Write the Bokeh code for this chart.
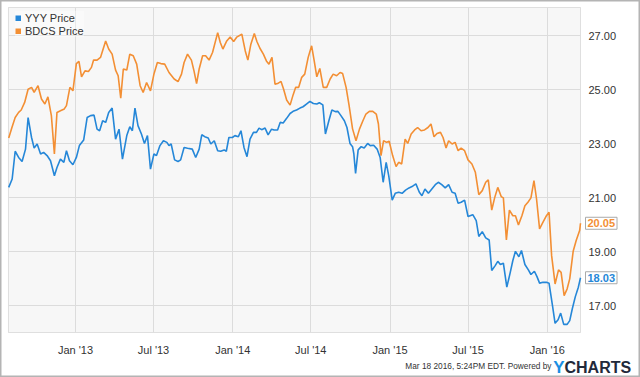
import pandas as pd
from bokeh.plotting import figure
from bokeh.models import (Range1d, FixedTicker, PrintfTickFormatter, DatetimeTickFormatter,
                          Legend, LegendItem, Label, ColumnDataSource, BoxAnnotation, Grid)
from bokeh.embed import file_html
from bokeh.resources import INLINE

# ---------------- data ----------------
yyy_dates = [
    "2012-07-30", "2012-08-07", "2012-08-14", "2012-08-22", "2012-08-30", "2012-09-07", "2012-09-13",
    "2012-09-21", "2012-09-27", "2012-10-04", "2012-10-12", "2012-10-19", "2012-10-27", "2012-11-04",
    "2012-11-13", "2012-11-19", "2012-11-27", "2012-12-05", "2012-12-11", "2012-12-18", "2012-12-26",
    "2013-01-03", "2013-01-10", "2013-01-20", "2013-01-28", "2013-02-05", "2013-02-13", "2013-02-20",
    "2013-02-26", "2013-03-05", "2013-03-12", "2013-03-19", "2013-03-27", "2013-04-04", "2013-04-12",
    "2013-04-20", "2013-04-30", "2013-05-07", "2013-05-13", "2013-05-19", "2013-05-26", "2013-06-03",
    "2013-06-10", "2013-06-17", "2013-06-24", "2013-07-02", "2013-07-08", "2013-07-16", "2013-07-24",
    "2013-08-01", "2013-08-06", "2013-08-11", "2013-08-19", "2013-08-27", "2013-09-02", "2013-09-10",
    "2013-09-18", "2013-09-29", "2013-10-07", "2013-10-15", "2013-10-21", "2013-10-28", "2013-11-05",
    "2013-11-11", "2013-11-19", "2013-11-27", "2013-12-04", "2013-12-12", "2013-12-17", "2013-12-23",
    "2013-12-31", "2014-01-06", "2014-01-14", "2014-01-20", "2014-01-27", "2014-02-03", "2014-02-10",
    "2014-02-18", "2014-02-25", "2014-03-03", "2014-03-09", "2014-03-17", "2014-03-24", "2014-04-01",
    "2014-04-07", "2014-04-15", "2014-04-21", "2014-04-28", "2014-05-06", "2014-05-14", "2014-05-21",
    "2014-05-29", "2014-06-06", "2014-06-13", "2014-06-21", "2014-06-29", "2014-07-07", "2014-07-15",
    "2014-07-21", "2014-07-29", "2014-08-04", "2014-08-12", "2014-08-19", "2014-08-27", "2014-09-02",
    "2014-09-09", "2014-09-17", "2014-09-23", "2014-09-30", "2014-10-06", "2014-10-09", "2014-10-13",
    "2014-10-19", "2014-10-26", "2014-11-02", "2014-11-10", "2014-11-16", "2014-11-24", "2014-12-02",
    "2014-12-09", "2014-12-16", "2014-12-23", "2014-12-29", "2015-01-06", "2015-01-13", "2015-01-21",
    "2015-01-29", "2015-02-06", "2015-02-14", "2015-02-21", "2015-03-02", "2015-03-10", "2015-03-16",
    "2015-03-23", "2015-03-31", "2015-04-08", "2015-04-16", "2015-04-23", "2015-05-01", "2015-05-09",
    "2015-05-17", "2015-05-25", "2015-06-01", "2015-06-08", "2015-06-15", "2015-06-23", "2015-07-01",
    "2015-07-12", "2015-07-20", "2015-07-26", "2015-08-03", "2015-08-11", "2015-08-19", "2015-08-25",
    "2015-09-02", "2015-09-08", "2015-09-14", "2015-09-21", "2015-09-29", "2015-10-07", "2015-10-13",
    "2015-10-19", "2015-10-27", "2015-11-02", "2015-11-10", "2015-11-18", "2015-11-24", "2015-12-02",
    "2015-12-08", "2015-12-14", "2015-12-22", "2015-12-30", "2016-01-05", "2016-01-13", "2016-01-19",
    "2016-01-26", "2016-02-01", "2016-02-08", "2016-02-16", "2016-02-22", "2016-02-28", "2016-03-06",
    "2016-03-13", "2016-03-18",
]
yyy_price = [
    21.38, 21.69, 22.72, 22.49, 22.34, 22.80, 23.97, 23.23, 22.84, 22.99, 22.62, 22.68, 22.56, 22.37,
    21.81, 22.12, 22.43, 22.31, 22.74, 22.37, 22.22, 22.49, 22.93, 23.14, 23.97, 24.04, 24.06, 23.54,
    23.48, 23.85, 23.79, 24.16, 24.32, 23.17, 23.54, 22.43, 23.30, 23.63, 23.48, 24.32, 23.67, 23.36,
    23.01, 23.30, 22.06, 22.62, 22.56, 22.93, 23.11, 23.05, 22.93, 22.99, 22.40, 22.34, 22.40, 22.86,
    22.83, 22.80, 22.49, 22.80, 23.33, 23.26, 23.21, 22.99, 23.11, 22.74, 22.72, 22.77, 22.72, 23.23,
    23.23, 23.30, 23.26, 23.48, 22.86, 22.52, 23.17, 23.42, 23.42, 23.58, 23.52, 23.58, 23.33, 23.54,
    23.51, 23.51, 23.79, 23.77, 23.94, 24.12, 24.20, 24.25, 24.32, 24.37, 24.47, 24.57, 24.49, 24.47,
    24.52, 24.44, 23.36, 23.85, 24.25, 24.19, 24.20, 24.04, 23.85, 23.60, 23.01, 22.89, 22.62, 21.90,
    22.77, 22.89, 22.84, 23.01, 22.93, 22.94, 22.80, 22.49, 21.57, 22.31, 21.81, 20.91, 21.16, 21.20,
    21.16, 21.28, 21.36, 21.41, 21.51, 21.20, 21.07, 21.32, 21.16, 21.32, 21.48, 21.57, 21.48, 21.36,
    21.48, 21.20, 21.16, 20.79, 20.83, 20.91, 20.30, 20.37, 20.15, 19.56, 19.74, 19.51, 19.43, 18.30,
    18.48, 18.64, 18.52, 18.57, 17.68, 18.23, 18.67, 19.01, 18.81, 19.04, 18.52, 18.32, 18.15, 18.27,
    18.07, 17.83, 17.86, 17.86, 17.83, 17.00, 16.34, 16.47, 16.72, 16.30, 16.30, 16.44, 16.88, 17.33,
    17.68, 18.03,
]

bdcs_dates = [
    "2012-07-30", "2012-08-07", "2012-08-14", "2012-08-22", "2012-08-28", "2012-09-05", "2012-09-13",
    "2012-09-21", "2012-09-27", "2012-10-06", "2012-10-14", "2012-10-22", "2012-10-29", "2012-11-06",
    "2012-11-13", "2012-11-19", "2012-11-27", "2012-12-06", "2012-12-11", "2012-12-19", "2012-12-26",
    "2013-01-03", "2013-01-09", "2013-01-15", "2013-01-23", "2013-01-31", "2013-02-07", "2013-02-12",
    "2013-02-20", "2013-02-28", "2013-03-12", "2013-03-19", "2013-03-27", "2013-04-04", "2013-04-10",
    "2013-04-16", "2013-04-22", "2013-04-30", "2013-05-07", "2013-05-15", "2013-05-23", "2013-05-31",
    "2013-06-07", "2013-06-15", "2013-06-24", "2013-07-02", "2013-07-10", "2013-07-18", "2013-07-27",
    "2013-08-06", "2013-08-18", "2013-08-27", "2013-09-04", "2013-09-10", "2013-09-18", "2013-09-27",
    "2013-10-03", "2013-10-09", "2013-10-15", "2013-10-23", "2013-10-30", "2013-11-07", "2013-11-15",
    "2013-11-27", "2013-12-03", "2013-12-09", "2013-12-18", "2013-12-26", "2014-01-03", "2014-01-10",
    "2014-01-22", "2014-01-30", "2014-02-05", "2014-02-12", "2014-02-20", "2014-02-26", "2014-03-05",
    "2014-03-13", "2014-03-20", "2014-03-26", "2014-04-02", "2014-04-09", "2014-04-15", "2014-04-23",
    "2014-04-29", "2014-05-06", "2014-05-14", "2014-05-21", "2014-05-27", "2014-06-03", "2014-06-10",
    "2014-06-17", "2014-06-25", "2014-07-03", "2014-07-09", "2014-07-15", "2014-07-22", "2014-07-30",
    "2014-08-07", "2014-08-15", "2014-08-22", "2014-08-30", "2014-09-07", "2014-09-13", "2014-09-21",
    "2014-09-28", "2014-10-06", "2014-10-14", "2014-10-22", "2014-10-30", "2014-11-06", "2014-11-14",
    "2014-11-22", "2014-11-30", "2014-12-05", "2014-12-11", "2014-12-17", "2014-12-24", "2014-12-30",
    "2015-01-07", "2015-01-15", "2015-01-21", "2015-01-28", "2015-02-05", "2015-02-11", "2015-02-19",
    "2015-02-27", "2015-03-06", "2015-03-14", "2015-03-22", "2015-03-30", "2015-04-06", "2015-04-13",
    "2015-04-20", "2015-04-28", "2015-05-04", "2015-05-11", "2015-05-17", "2015-05-25", "2015-06-01",
    "2015-06-08", "2015-06-15", "2015-06-23", "2015-07-01", "2015-07-10", "2015-07-18", "2015-07-26",
    "2015-08-03", "2015-08-11", "2015-08-17", "2015-08-25", "2015-09-01", "2015-09-08", "2015-09-16",
    "2015-09-21", "2015-09-28", "2015-10-05", "2015-10-13", "2015-10-19", "2015-10-26", "2015-11-03",
    "2015-11-10", "2015-11-17", "2015-11-24", "2015-12-01", "2015-12-07", "2015-12-14", "2015-12-22",
    "2015-12-30", "2016-01-05", "2016-01-11", "2016-01-19", "2016-01-27", "2016-02-02", "2016-02-09",
    "2016-02-16", "2016-02-22", "2016-03-01", "2016-03-08", "2016-03-16", "2016-03-18",
]
bdcs_price = [
    23.21, 23.63, 23.97, 24.16, 24.25, 24.53, 25.02, 25.09, 24.90, 25.15, 24.66, 24.47, 24.74, 24.04,
    22.62, 24.16, 24.22, 24.29, 24.41, 25.09, 24.96, 25.97, 26.05, 25.48, 25.70, 25.68, 25.83, 26.10,
    26.10, 26.20, 26.81, 26.51, 26.32, 25.73, 25.52, 24.69, 25.77, 25.73, 26.32, 26.26, 25.95, 25.15,
    24.90, 25.27, 24.96, 25.58, 26.01, 25.97, 25.95, 25.64, 25.40, 25.30, 25.58, 26.01, 26.32, 26.10,
    25.70, 25.23, 25.77, 26.26, 26.26, 26.10, 26.38, 27.12, 26.75, 26.51, 26.81, 26.96, 26.79, 26.95,
    27.06, 26.44, 26.10, 26.69, 27.09, 26.79, 26.54, 26.32, 26.07, 25.95, 26.20, 25.21, 25.23, 25.31,
    25.02, 24.62, 24.43, 24.81, 25.09, 25.09, 25.46, 25.58, 26.20, 26.63, 26.07, 25.48, 25.79, 25.09,
    25.09, 25.40, 25.58, 25.52, 25.64, 25.60, 25.09, 24.41, 23.55, 23.11, 23.54, 23.85, 24.10, 24.20,
    24.20, 24.10, 23.73, 22.56, 23.11, 23.05, 23.09, 22.56, 22.15, 22.31, 22.25, 23.17, 23.01, 23.36,
    23.51, 23.60, 23.48, 23.51, 23.60, 23.73, 23.26, 23.38, 23.42, 23.23, 22.84, 23.11, 22.99, 23.05,
    22.74, 22.84, 22.74, 22.40, 22.25, 21.94, 21.11, 21.26, 21.57, 21.66, 20.54, 21.01, 21.38, 21.04,
    20.99, 19.43, 20.54, 20.33, 20.33, 19.99, 20.33, 20.70, 20.83, 20.99, 21.63, 20.95, 19.84, 20.09,
    20.33, 20.46, 18.85, 17.80, 18.32, 18.23, 17.37, 17.62, 17.99, 19.01, 19.41, 19.78, 20.05,
]

series_names = ["YYY Price", "BDCS Price"]
y_ticks = [17, 19, 21, 23, 25, 27]
x_tick_dates = ["2013-01-01", "2013-07-01", "2014-01-01", "2014-07-01",
                "2015-01-01", "2015-07-01", "2016-01-01"]
x_start, x_end = "2012-07-29 12:00", "2016-03-18"
y_start, y_end = 16.0, 28.05
footer_text = "Mar 18 2016, 5:24PM EDT. Powered by"
logo_parts = ["Y", "CHARTS"]

BLUE = "#2587d8"
ORANGE = "#f38f34"
FONT = "Liberation Sans"

# ---------------- layout (pixels) ----------------
W, H = 640, 377
AREA_L, AREA_R, AREA_T, AREA_B = 8, 580, 7, 332   # shaded chart area inside the canvas

t0, t1 = pd.Timestamp(x_start), pd.Timestamp(x_end)
dt_px = (t1 - t0) / (AREA_R - AREA_L)
dy_px = (y_end - y_start) / (AREA_B - AREA_T)
x_range = Range1d(t0 - dt_px * AREA_L, t1 + dt_px * (W - AREA_R))
y_range = Range1d(y_start - dy_px * (H - AREA_B), y_end + dy_px * AREA_T)

p = figure(width=W, height=H, output_backend="svg", toolbar_location=None,
           x_axis_type="datetime", y_axis_location="right",
           x_range=x_range, y_range=y_range, min_border=0)
p.background_fill_color = "white"
p.border_fill_color = "white"
p.outline_line_color = "#b4b4b4"
p.outline_line_width = 2

# shaded chart area with its grey border
p.add_layout(BoxAnnotation(left=t0, right=t1, bottom=y_start, top=y_end,
                           fill_color="#f7f7f7", fill_alpha=1.0,
                           line_color="#a0a0a0", line_width=1, level="image"))

src_y = ColumnDataSource(dict(x=pd.to_datetime(yyy_dates), y=yyy_price))
src_b = ColumnDataSource(dict(x=pd.to_datetime(bdcs_dates), y=bdcs_price))
p.line("x", "y", source=src_b, line_color=ORANGE, line_width=1.6)
p.line("x", "y", source=src_y, line_color=BLUE, line_width=1.6)

# legend: square swatches drawn by thick, hidden line renderers
sw_y = p.line("x", "y", source=src_y, line_color=BLUE, line_width=6, line_cap="butt", visible=False)
sw_b = p.line("x", "y", source=src_b, line_color=ORANGE, line_width=6, line_cap="butt", visible=False)
legend = Legend(items=[LegendItem(label=series_names[0], renderers=[sw_y]),
                       LegendItem(label=series_names[1], renderers=[sw_b])],
                location=(15, 340), orientation="vertical",
                background_fill_color="white", background_fill_alpha=0.35,
                border_line_color=None, padding=1, margin=0, spacing=0,
                glyph_width=6, glyph_height=6, label_height=13, label_standoff=4,
                label_text_font=FONT, label_text_font_size="11px", label_text_color="#333333",
                inactive_fill_alpha=0.0, click_policy="none")
p.add_layout(legend, "center")

# axes (labels pulled back next to the chart area)
xa = p.xaxis[0]
xa.ticker = FixedTicker(ticks=[pd.Timestamp(d).value / 1e6 for d in x_tick_dates])
fmt = "%b '%y"
xa.formatter = DatetimeTickFormatter(days=fmt, months=fmt, years=fmt, hours=fmt)
ya = p.yaxis[0]
ya.ticker = FixedTicker(ticks=y_ticks)
ya.formatter = PrintfTickFormatter(format="%.2f")
for ax in (xa, ya):
    ax.axis_line_color = None
    ax.major_tick_line_color = None
    ax.minor_tick_line_color = None
    ax.major_tick_out = 0
    ax.major_tick_in = 0
    ax.minor_tick_out = 0
    ax.major_label_text_font = FONT
    ax.major_label_text_font_size = "11px"
    ax.major_label_text_color = "#333333"
xa.major_label_standoff = (AREA_B + 11) - H
ya.major_label_standoff = (AREA_R + 8) - W

p.xgrid.ticker = xa.ticker
p.ygrid.ticker = ya.ticker
for g in (p.xgrid[0], p.ygrid[0]):
    g.grid_line_color = "#dcdcdc"
    g.grid_line_width = 1
if "cross_bounds" in Grid.properties():
    p.ygrid[0].cross_bounds = (t0.value / 1e6, t1.value / 1e6)
    p.xgrid[0].cross_bounds = (y_start, y_end)
else:
    p.ygrid[0].visible = False
    p.xgrid[0].visible = False
    p.segment(x0=[t0] * len(y_ticks), x1=[t1] * len(y_ticks), y0=y_ticks, y1=y_ticks,
              line_color="#dcdcdc", line_width=1, level="underlay")
    xt = pd.to_datetime(x_tick_dates)
    p.segment(x0=xt, x1=xt, y0=[y_start] * len(xt), y1=[y_end] * len(xt),
              line_color="#dcdcdc", line_width=1, level="underlay")

# last-value tags
for dates, vals, col in ((bdcs_dates, bdcs_price, ORANGE), (yyy_dates, yyy_price, BLUE)):
    p.add_layout(Label(x=pd.Timestamp(dates[-1]), y=vals[-1], x_offset=5, text="%.2f" % vals[-1],
                       text_font=FONT, text_font_size="11px", text_font_style="bold",
                       text_color=col, text_align="left", text_baseline="middle",
                       background_fill_color="white", border_line_color="#aaaaaa",
                       padding=2))

# footer
p.add_layout(Label(x=551, y=H - 365, x_units="screen", y_units="screen", text=footer_text,
                   text_font=FONT, text_font_size="8.3px", text_color="#333333",
                   text_align="right", text_baseline="alphabetic"))
p.add_layout(Label(x=564, y=H - 367, x_units="screen", y_units="screen", text=logo_parts[0],
                   text_font=FONT, text_font_size="17px", text_font_style="bold",
                   text_color="#1a8fe3", text_align="right", text_baseline="alphabetic"))
p.add_layout(Label(x=564, y=H - 367, x_units="screen", y_units="screen", text=logo_parts[1],
                   text_font=FONT, text_font_size="16px", text_font_style="bold",
                   text_color="#22293a", text_align="left", text_baseline="alphabetic"))

open("out.html", "w").write(file_html(p, INLINE))
